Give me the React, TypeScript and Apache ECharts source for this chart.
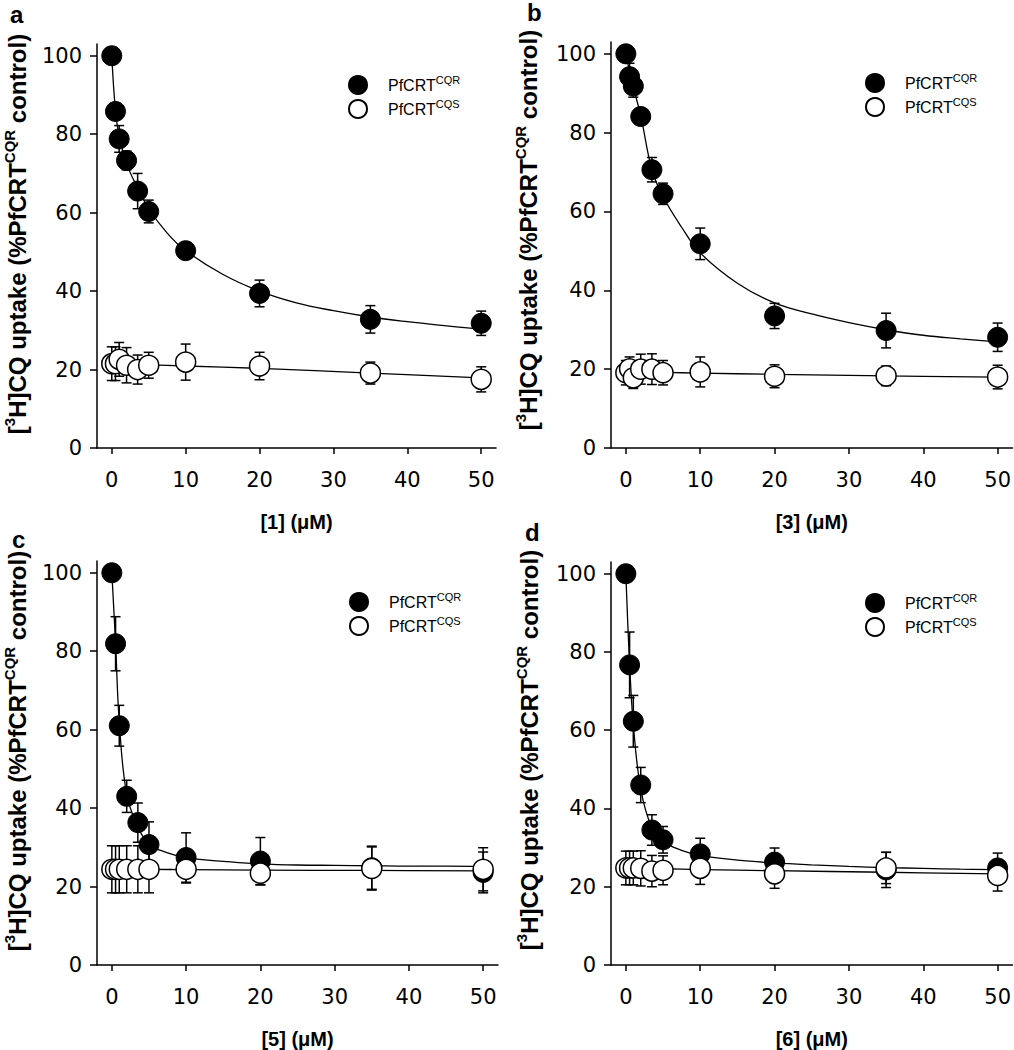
import React, { useEffect, useRef } from "react";
import * as echarts from "echarts";

// ---------- data ----------
const X_CONC = [0, 0.5, 1, 2, 3.5, 5, 10, 20, 35, 50];
const X_TICKS = [0, 10, 20, 30, 40, 50];
const Y_TICKS = [0, 20, 40, 60, 80, 100];
const PANEL_LETTERS = ["a", "b", "c", "d"];
const X_TITLES = ["[1] (μM)", "[3] (μM)", "[5] (μM)", "[6] (μM)"];
const NAME_CQR = "PfCRTCQR";
const NAME_CQS = "PfCRTCQS";

// panel a
const A_CQR = [100, 85.8, 78.8, 73.3, 65.5, 60.3, 50.3, 39.4, 32.8, 31.8];
const A_CQR_ERR = [0, 2, 3.4, 2.4, 4.5, 2.9, 1, 3.4, 3.5, 3.1];
const A_CQS = [21.5, 21.5, 22.6, 21.1, 20.0, 21.1, 21.9, 20.9, 19.1, 17.5];
const A_CQS_ERR = [4.3, 4.3, 4.3, 4.5, 3.7, 3.3, 4.6, 3.5, 2.8, 3.2];
// panel b
const B_CQR = [100, 94.2, 91.8, 84.1, 70.6, 64.5, 51.8, 33.5, 29.8, 28.1];
const B_CQR_ERR = [0, 3.4, 2.8, 1.5, 3.1, 2.7, 4, 3.2, 4.4, 3.6];
const B_CQS = [19.1, 20.1, 17.8, 20.0, 20.0, 19.1, 19.3, 18.2, 18.3, 18.0];
const B_CQS_ERR = [3.1, 3.0, 2.7, 3.8, 3.9, 3.1, 3.8, 2.9, 2.5, 3.0];
// panel c
const C_CQR = [100, 81.9, 61.0, 43.0, 36.3, 30.7, 27.4, 26.5, 24.8, 23.6];
const C_CQR_ERR = [0, 6.9, 5.2, 4.1, 5.0, 5.8, 6.3, 6.0, 5.5, 5.2];
const C_CQS = [24.4, 24.4, 24.4, 24.4, 24.4, 24.4, 24.4, 23.4, 24.6, 24.4];
const C_CQS_ERR = [6, 6, 6, 6, 6, 6, 3.5, 3, 5.5, 5.5];
// panel d
const D_CQR = [100, 76.7, 62.3, 46.0, 34.5, 32.0, 28.4, 26.3, 24.3, 24.8];
const D_CQR_ERR = [0, 8.4, 6.6, 4.5, 3.9, 3.4, 4.0, 3.6, 4.5, 3.8];
const D_CQS = [24.8, 24.8, 24.8, 24.7, 24.0, 24.2, 24.7, 23.3, 24.8, 22.9];
const D_CQS_ERR = [4.3, 4.3, 4.3, 4.5, 4.0, 3.7, 4.1, 3.7, 4.0, 4.0];

// fitted curves
const FIT_X = [0, 0.5, 1, 2, 3.5, 5, 7.5, 10, 15, 20, 25, 30, 35, 40, 45, 50];
const A_FIT_CQR = [100, 86, 79.5, 72.5, 66.3, 61, 54.8, 50.3, 44.3, 40, 37, 35, 33.4, 32.2, 31.2, 30.3];
const B_FIT_CQR = [100, 95.5, 91.5, 84.3, 70.6, 63.8, 56, 49.5, 41.8, 36.8, 34, 31.8, 30, 28.6, 27.7, 26.9];
const C_FIT_CQR = [100, 82, 62, 43.5, 35.3, 30.8, 28.6, 27.4, 26.4, 25.8, 25.5, 25.4, 25.3, 25.2, 25.2, 25.1];
const D_FIT_CQR = [100, 77, 61.5, 45, 35, 31.6, 29.3, 28, 26.8, 26.1, 25.6, 25.2, 24.9, 24.7, 24.5, 24.4];
const FIT_X_CQS = [0, 5, 10, 20, 35, 50];
const A_FIT_CQS = [21.6, 21.2, 20.9, 20.3, 19.1, 17.9];
const B_FIT_CQS = [19.4, 19.2, 19.0, 18.7, 18.3, 18.0];
const C_FIT_CQS = [24.4, 24.4, 24.3, 24.2, 24.1, 24.0];
const D_FIT_CQS = [24.8, 24.6, 24.4, 24.1, 23.7, 23.3];

const PANELS = [
  { cqr: A_CQR, cqrErr: A_CQR_ERR, cqs: A_CQS, cqsErr: A_CQS_ERR, fitCqr: A_FIT_CQR, fitCqs: A_FIT_CQS },
  { cqr: B_CQR, cqrErr: B_CQR_ERR, cqs: B_CQS, cqsErr: B_CQS_ERR, fitCqr: B_FIT_CQR, fitCqs: B_FIT_CQS },
  { cqr: C_CQR, cqrErr: C_CQR_ERR, cqs: C_CQS, cqsErr: C_CQS_ERR, fitCqr: C_FIT_CQR, fitCqs: C_FIT_CQS },
  { cqr: D_CQR, cqrErr: D_CQR_ERR, cqs: D_CQS, cqsErr: D_CQS_ERR, fitCqr: D_FIT_CQR, fitCqs: D_FIT_CQS },
];

// ---------- layout ----------
const GRIDS = [
  { left: 97, top: 44, width: 399, height: 404 },
  { left: 611, top: 42, width: 402, height: 406 },
  { left: 97, top: 561, width: 401, height: 406 },
  { left: 611, top: 562, width: 402, height: 406 },
];
const LEGEND_POS = [
  { left: 348, top: 74 },
  { left: 865, top: 72 },
  { left: 349, top: 591 },
  { left: 865, top: 592 },
];
const YTITLE_POS = [
  [17, 234],
  [528, 230],
  [17, 751],
  [529, 750],
];
const LETTER_POS = [
  [10, 14],
  [527, 12],
  [12, 539],
  [525, 532],
];

const TICK_FONT = "DejaVu Sans";
const SANS = "Liberation Sans, Arial, Helvetica, sans-serif";

function errRender(params: any, api: any) {
  const x = api.value(0);
  const y = api.value(1);
  const e = api.value(2);
  if (!e) return null;
  const top = api.coord([x, y + e]);
  const bot = api.coord([x, y - e]);
  const hw = 5;
  const st = { stroke: "#000", lineWidth: 1.5 };
  return {
    type: "group",
    children: [
      { type: "line", shape: { x1: top[0], y1: top[1], x2: bot[0], y2: bot[1] }, style: st },
      { type: "line", shape: { x1: top[0] - hw, y1: top[1], x2: top[0] + hw, y2: top[1] }, style: st },
      { type: "line", shape: { x1: bot[0] - hw, y1: bot[1], x2: bot[0] + hw, y2: bot[1] }, style: st },
    ],
  };
}

function buildOption() {
  const grid = GRIDS.map((g) => ({ ...g, containLabel: false }));
  const xAxis = GRIDS.map((_, i) => ({
    type: "value",
    gridIndex: i,
    min: -2,
    max: 52,
    axisLine: { show: true, onZero: false, lineStyle: { color: "#000", width: 1.5 } },
    axisTick: { show: true, length: 6, customValues: X_TICKS, lineStyle: { color: "#000", width: 1.5 } },
    axisLabel: { customValues: X_TICKS, fontFamily: TICK_FONT, fontSize: 21, color: "#000", margin: 21 },
    splitLine: { show: false },
    name: X_TITLES[i],
    nameLocation: "middle",
    nameGap: 64,
    nameTextStyle: { fontFamily: SANS, fontWeight: "bold", fontSize: 20, color: "#000" },
  }));
  const yAxis = GRIDS.map((_, i) => ({
    type: "value",
    gridIndex: i,
    min: 0,
    max: 103,
    axisLine: { show: true, onZero: false, lineStyle: { color: "#000", width: 1.5 } },
    axisTick: { show: true, length: 7, customValues: Y_TICKS, lineStyle: { color: "#000", width: 1.5 } },
    axisLabel: { customValues: Y_TICKS, fontFamily: TICK_FONT, fontSize: 21, color: "#000", margin: 15 },
    splitLine: { show: false },
  }));

  const series: any[] = [];
  PANELS.forEach((p, i) => {
    series.push({
      type: "custom",
      name: "errCQR" + i,
      xAxisIndex: i,
      yAxisIndex: i,
      renderItem: errRender,
      encode: { x: 0, y: 1 },
      data: X_CONC.map((x, j) => [x, p.cqr[j], p.cqrErr[j]]),
      z: 1,
    });
    series.push({
      type: "custom",
      name: "errCQS" + i,
      xAxisIndex: i,
      yAxisIndex: i,
      renderItem: errRender,
      encode: { x: 0, y: 1 },
      data: X_CONC.map((x, j) => [x, p.cqs[j], p.cqsErr[j]]),
      z: 1,
    });
    series.push({
      type: "line",
      name: "fitCQR" + i,
      xAxisIndex: i,
      yAxisIndex: i,
      data: FIT_X.map((x, j) => [x, p.fitCqr[j]]),
      showSymbol: false,
      smooth: 0.4,
      lineStyle: { color: "#000", width: 1.3 },
      z: 2,
    });
    series.push({
      type: "line",
      name: "fitCQS" + i,
      xAxisIndex: i,
      yAxisIndex: i,
      data: FIT_X_CQS.map((x, j) => [x, p.fitCqs[j]]),
      showSymbol: false,
      smooth: 0.4,
      lineStyle: { color: "#000", width: 1.3 },
      z: 2,
    });
    series.push({
      type: "scatter",
      name: NAME_CQR,
      xAxisIndex: i,
      yAxisIndex: i,
      data: X_CONC.map((x, j) => [x, p.cqr[j]]),
      symbol: "circle",
      symbolSize: 20,
      itemStyle: { color: "#000", borderColor: "#000", borderWidth: 1, opacity: 1 },
      z: 3,
    });
    series.push({
      type: "scatter",
      name: NAME_CQS,
      xAxisIndex: i,
      yAxisIndex: i,
      data: X_CONC.map((x, j) => [x, p.cqs[j]]),
      symbol: "circle",
      symbolSize: 20,
      itemStyle: { color: "#fff", borderColor: "#000", borderWidth: 1.5, opacity: 1 },
      z: 4,
    });
  });

  const legend = LEGEND_POS.map((pos) => ({
    left: pos.left,
    top: pos.top,
    orient: "vertical",
    padding: 0,
    itemGap: 3,
    itemWidth: 18,
    itemHeight: 18,
    icon: "circle",
    selectedMode: false,
    data: [NAME_CQR, NAME_CQS],
    formatter: (name: string) =>
      name === NAME_CQR ? "{b|PfCRT}{s|CQR}" : "{b|PfCRT}{s|CQS}",
    textStyle: {
      color: "#000",
      fontFamily: SANS,
      rich: {
        b: { fontFamily: SANS, fontSize: 16, color: "#000", lineHeight: 22, padding: [0, 0, 0, 16] },
        s: { fontFamily: SANS, fontSize: 11, color: "#000", lineHeight: 8, verticalAlign: "top" },
      },
    },
  }));

  const yTitleRich = {
    b: { fontFamily: SANS, fontWeight: "bold", fontSize: 24, color: "#000", lineHeight: 30 },
    s: { fontFamily: SANS, fontWeight: "bold", fontSize: 15, color: "#000", lineHeight: 12, verticalAlign: "top" },
  };
  const graphic: any[] = [];
  YTITLE_POS.forEach(([x, y]) => {
    graphic.push({
      type: "text",
      x,
      y,
      rotation: Math.PI / 2,
      style: {
        text: "{b|[}{s|3}{b|H]CQ uptake (%PfCRT}{s|CQR}{b| control)}",
        rich: yTitleRich,
        align: "center",
        verticalAlign: "middle",
      },
    });
  });
  LETTER_POS.forEach(([x, y], i) => {
    graphic.push({
      type: "text",
      x,
      y,
      style: {
        text: PANEL_LETTERS[i],
        fontFamily: SANS,
        fontWeight: "bold",
        fontSize: 24,
        fill: "#000",
        align: "left",
        verticalAlign: "middle",
      },
    });
  });

  return {
    animation: false,
    backgroundColor: "#fff",
    grid,
    xAxis,
    yAxis,
    legend,
    series,
    graphic,
  };
}

export default function App() {
  const ref = useRef<HTMLDivElement>(null);
  useEffect(() => {
    if (!ref.current) return;
    const chart = echarts.init(ref.current, null, { renderer: "svg" });
    chart.setOption(buildOption() as any);
    return () => chart.dispose();
  }, []);
  return (
    <div
      ref={ref}
      style={{ position: "absolute", left: 0, top: 0, width: 1014, height: 1050, background: "#fff" }}
    />
  );
}
